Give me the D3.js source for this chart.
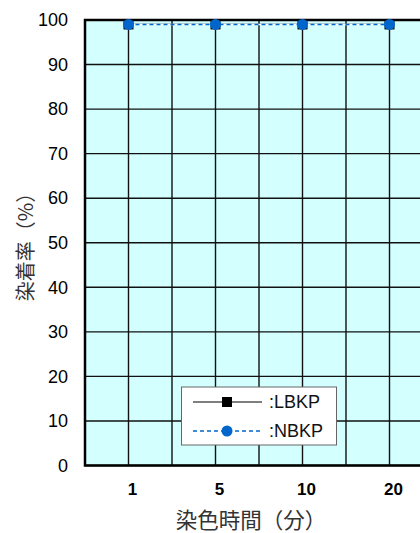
<!DOCTYPE html>
<html><head><meta charset="utf-8">
<script src="https://cdn.jsdelivr.net/npm/d3@7"></script>
<style>body{margin:0;background:#fff}svg{display:block}</style>
</head><body>
<svg id="c" width="420" height="533"></svg>
<script>
const categories = ["1", "5", "10", "20"];
const lbkp = [99, 99, 99, 99];
const nbkp = [99, 99, 99, 99];
const yTicks = [0, 10, 20, 30, 40, 50, 60, 70, 80, 90, 100];
const seriesNames = [":LBKP", ":NBKP"];

const svg = d3.select("#c");
const L = 85, R = 433, T = 20, B = 465.5;
const x = d3.scaleBand().domain(categories).range([L, R]);
const y = d3.scaleLinear().domain([0, 100]).range([B, T]);
const cx = d => x(d) + x.bandwidth() / 2;

svg.append("rect").attr("x", L).attr("y", T).attr("width", R - L).attr("height", B - T).attr("fill", "#d4ffff");

const g = svg.append("g");
const vlines = [];
categories.forEach(c => { vlines.push(x(c)); vlines.push(cx(c)); });
vlines.push(R);
g.selectAll(".vg").data(vlines).join("line")
  .attr("x1", d => d).attr("x2", d => d).attr("y1", T).attr("y2", B)
  .attr("stroke", "#111").attr("stroke-width", 1.4);
g.selectAll(".hg").data(yTicks).join("line")
  .attr("x1", L).attr("x2", R).attr("y1", d => y(d)).attr("y2", d => y(d))
  .attr("stroke", "#111").attr("stroke-width", 1.4);

svg.append("rect").attr("x", L).attr("y", T).attr("width", R - L).attr("height", B - T)
  .attr("fill", "none").attr("stroke", "#000").attr("stroke-width", 2.5);

const yAxis = d3.axisLeft(y).tickValues(yTicks).tickSize(0).tickPadding(17);
svg.append("g").attr("transform", `translate(${L},0)`).call(yAxis)
  .call(s => s.select(".domain").remove())
  .selectAll("text").attr("font-family", "Liberation Sans, Arial, sans-serif")
  .attr("font-size", 18).attr("fill", "#000");

const xAxis = d3.axisBottom(x).tickSize(0).tickPadding(17);
svg.append("g").attr("transform", `translate(4,${B})`).call(xAxis)
  .call(s => s.select(".domain").remove())
  .selectAll("text").attr("font-family", "Liberation Sans, Arial, sans-serif")
  .attr("font-size", 17).attr("font-weight", "bold").attr("fill", "#000");

svg.append("text").attr("transform", `translate(24,242) rotate(-90)`)
  .attr("text-anchor", "middle").attr("dominant-baseline", "central")
  .attr("font-family", "Noto Sans CJK JP, sans-serif")
  .attr("font-size", 20).attr("fill", "#333")
  .text("染着率（%）");
svg.append("text").attr("x", 251).attr("y", 518)
  .attr("text-anchor", "middle").attr("dominant-baseline", "central")
  .attr("font-family", "Noto Sans CJK JP, sans-serif")
  .attr("font-size", 21.5).attr("fill", "#333").text("染色時間（分）");

const line = d3.line().x((d, i) => cx(categories[i])).y(d => y(d));
svg.append("path").datum(lbkp).attr("d", line).attr("fill", "none").attr("stroke", "#000").attr("stroke-width", 1.2);
svg.selectAll(".sq").data(lbkp).join("rect")
  .attr("x", (d, i) => cx(categories[i]) - 5).attr("y", d => y(d) - 5)
  .attr("width", 10).attr("height", 10).attr("fill", "#000");
svg.append("path").datum(nbkp).attr("d", line).attr("fill", "none").attr("stroke", "#fff").attr("stroke-width", 1.4);
svg.append("path").datum(nbkp).attr("d", line).attr("fill", "none").attr("stroke", "#0066cc")
  .attr("stroke-width", 1.6).attr("stroke-dasharray", "4,3");
svg.selectAll(".ci").data(nbkp).join("circle")
  .attr("cx", (d, i) => cx(categories[i])).attr("cy", d => y(d)).attr("r", 5.5).attr("fill", "#0066cc");

const lg = svg.append("g");
lg.append("rect").attr("x", 181.5).attr("y", 387).attr("width", 155).attr("height", 58)
  .attr("fill", "#fff").attr("stroke", "#666").attr("stroke-width", 1);
lg.append("line").attr("x1", 193).attr("x2", 262).attr("y1", 402).attr("y2", 402).attr("stroke", "#000").attr("stroke-width", 1.2);
lg.append("rect").attr("x", 222).attr("y", 397).attr("width", 10).attr("height", 10).attr("fill", "#000");
lg.append("line").attr("x1", 193).attr("x2", 262).attr("y1", 431).attr("y2", 431).attr("stroke", "#0066cc")
  .attr("stroke-width", 1.6).attr("stroke-dasharray", "4,3");
lg.append("circle").attr("cx", 227).attr("cy", 431).attr("r", 5.5).attr("fill", "#0066cc");
lg.selectAll(".lt").data(seriesNames).join("text")
  .attr("x", 269).attr("y", (d, i) => 402 + i * 29).attr("dy", "0.36em")
  .attr("font-family", "Liberation Sans, Arial, sans-serif").attr("font-size", 18).attr("fill", "#111")
  .text(d => d);
</script>
</body></html>
